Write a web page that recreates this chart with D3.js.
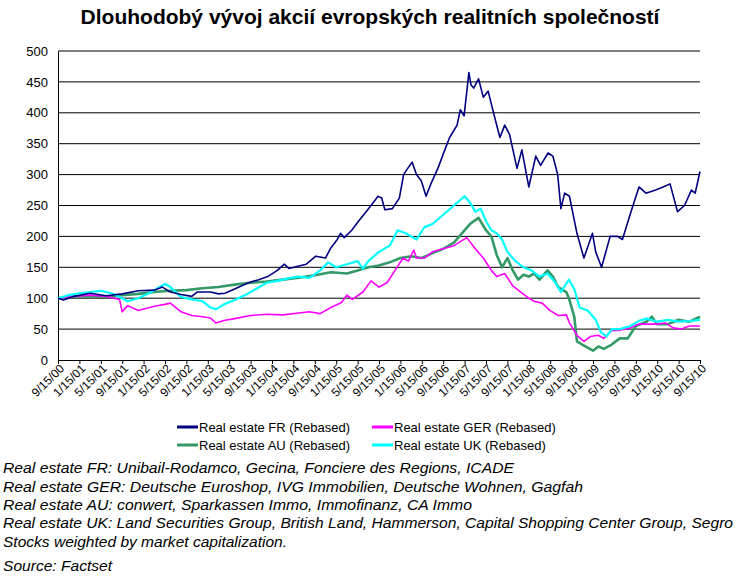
<!DOCTYPE html>
<html><head><meta charset="utf-8">
<script src="https://cdn.jsdelivr.net/npm/d3@7"></script>
<style>
body{margin:0;background:#fff;font-family:"Liberation Sans",Arial,sans-serif}
.note{font-style:italic;font-size:14px}
</style></head>
<body><svg id="c" width="738" height="578"></svg>
<script>
// months since 9/15/00, value (rebased to 100)
var frSeries = [[0,100],[1,97],[3,103],[6,108],[9,104],[12,107],[15,112],[18,113],[19.5,118],[21,110],[23,106],[25,103],[26,110],[28.5,110],[30,107],[31.2,108],[33,115],[35.6,125],[37.5,130],[39.2,135],[41,145],[42.3,155],[43.2,148],[45,152],[46.4,155],[48.2,168],[50,165],[50.9,180],[52.2,195],[52.8,205],[53.5,198],[54.9,210],[56.2,225],[57.6,240],[59.4,260],[59.8,265],[60.5,262],[61.1,243],[62.5,245],[63.8,262],[64.6,300],[65.2,308],[66.2,320],[67,300],[67.9,290],[68.8,265],[69.7,285],[71,310],[72.3,340],[73.2,360],[74.6,380],[75.2,405],[75.9,395],[76.8,465],[77.2,445],[77.7,440],[78.6,455],[79.5,425],[80.4,435],[81.7,390],[82.6,360],[83.5,380],[84.4,365],[85.8,310],[86.7,340],[88,280],[89.3,330],[90.2,315],[91.6,335],[92.5,330],[93.4,300],[94,245],[94.7,270],[95.6,265],[97,205],[98.3,165],[99.9,205],[100.5,175],[101.6,150],[103.2,200],[104.6,200],[105.5,195],[107.1,240],[108.6,280],[109.9,270],[111.7,275],[113.1,280],[114.4,285],[115.8,240],[117.1,250],[118.4,275],[119.1,270],[120,305]];
var gerSeries = [[0,100],[3,103],[6,105],[9,103],[11.5,98],[12,78],[13,88],[15,80],[18,87],[20,90],[21,92],[23,78],[25,72],[27,70],[28.5,68],[29.5,60],[31,64],[33,67],[36,72],[39,74],[42,73],[45,76],[47,78],[49,75],[51,85],[53,93],[54,105],[55,98],[57,110],[58.5,128],[60,118],[61.5,125],[63,145],[64.5,165],[65.5,160],[66.5,178],[67,165],[68.5,165],[70,175],[72,180],[74,185],[76.4,198],[78,180],[79.5,165],[81,145],[82,135],[83.5,140],[85,120],[86.5,110],[88,100],[89,95],[90.5,92],[92,80],[93.5,72],[95,73],[95.6,60],[97,40],[98.3,30],[99.5,38],[101,40],[102,35],[103.5,48],[105,48],[107,52],[108.5,58],[110,58],[112,58],[113.5,60],[115,52],[116.5,50],[118,55],[120,55]];
var auSeries = [[0,100],[3,103],[6,103],[9,102],[12,105],[15,107],[18,110],[21,112],[24,113],[27,116],[30,118],[33,122],[36,125],[39,127],[42,130],[45,133],[48,137],[51,142],[54,140],[56,145],[58,150],[60,153],[62,158],[64,165],[66,168],[68,165],[70,173],[72,180],[74,190],[75.5,205],[77,220],[78.6,230],[80,210],[81,200],[82,170],[83,150],[84,165],[85,145],[86,130],[87,138],[88,135],[89,140],[90,130],[91.5,145],[92.5,135],[93.5,118],[95,110],[95.5,100],[96.5,70],[97,30],[98,25],[99,20],[100,15],[101,22],[102,18],[103.5,25],[105,35],[106.5,35],[108,55],[110,62],[111,70],[112,58],[114,58],[116,65],[118,62],[120,70]];
var ukSeries = [[0,100],[2,105],[4,108],[6,110],[8,112],[10,108],[12,100],[13,95],[15,100],[17,108],[19,118],[20,123],[21,118],[23,102],[25,98],[27,95],[28.5,85],[29.5,82],[31,90],[33,97],[35,105],[37,115],[39,125],[41,128],[43,132],[45,135],[47,133],[49,145],[50.5,158],[52,150],[54,155],[56,160],[57,148],[58,160],[60,175],[62,185],[63.5,210],[65,205],[67,195],[68.5,215],[70,220],[72,235],[74,250],[76,265],[77,255],[78,240],[79,245],[80,225],[81,210],[82,205],[83,195],[84,175],[85.5,160],[87,150],[88.5,145],[90,135],[91.5,140],[93,125],[94,110],[95.5,130],[96.5,115],[97.5,85],[99,80],[100.5,65],[101.5,45],[102.5,38],[103.5,50],[105,50],[107,55],[108.5,63],[110,67],[112,62],[114,65],[116,62],[118,63],[120,65]];
var xTickLabels = ["9/15/00","1/15/01","5/15/01","9/15/01","1/15/02","5/15/02","9/15/02","1/15/03","5/15/03","9/15/03","1/15/04","5/15/04","9/15/04","1/15/05","5/15/05","9/15/05","1/15/06","5/15/06","9/15/06","1/15/07","5/15/07","9/15/07","1/15/08","5/15/08","9/15/08","1/15/09","5/15/09","9/15/09","1/15/10","5/15/10","9/15/10"];
var yTicks = [0,50,100,150,200,250,300,350,400,450,500];
var seriesNames = ["Real estate FR (Rebased)","Real estate GER (Rebased)","Real estate AU (Rebased)","Real estate UK (Rebased)"];
var footnotes = ["Real estate FR: Unibail-Rodamco, Gecina, Fonciere des Regions, ICADE","Real estate GER: Deutsche Euroshop, IVG Immobilien, Deutsche Wohnen, Gagfah","Real estate AU: conwert, Sparkassen Immo, Immofinanz, CA Immo","Real estate UK: Land Securities Group, British Land, Hammerson, Capital Shopping Center Group, Segro","Stocks weighted by market capitalization.","Source: Factset"];
var footWidths = [511,580,469,730,284,109];
var footY = [473,492,510,528,547,571];

var svg = d3.select("#c");
var x = d3.scaleLinear().domain([0,120]).range([58,700]);
var y = d3.scaleLinear().domain([0,500]).range([360,51]);

svg.append("text").attr("x",370).attr("y",24).attr("text-anchor","middle")
  .style("font-size","21px").style("font-weight","bold").text("Dlouhodobý vývoj akcií evropských realitních společností");

svg.append("g").selectAll("line").data(yTicks.slice(1)).enter().append("line")
  .attr("x1",58).attr("x2",700).attr("y1",y).attr("y2",y).attr("stroke","#000").attr("stroke-width",1);

var ya = svg.append("g").attr("transform","translate(58,0)")
  .call(d3.axisLeft(y).tickValues(yTicks).tickSize(0).tickPadding(10));
ya.select(".domain").attr("stroke","#000");
ya.selectAll("text").style("font-size","13px").style("font-family","Liberation Sans, Arial");

var xa = svg.append("g").attr("transform","translate(0,360)")
  .call(d3.axisBottom(x).tickValues(d3.range(0,121,4)).tickSize(4).tickSizeOuter(0)
    .tickFormat(function(d,i){return xTickLabels[i];}));
xa.selectAll("text").style("font-size","12px").style("font-family","Liberation Sans, Arial")
  .attr("text-anchor","end").attr("dx","-2").attr("dy","4").attr("transform","rotate(-45)");

var line = d3.line().x(function(d){return x(d[0]);}).y(function(d){return y(d[1]);});
var colors = ["#000080","#ff00ff","#339966","#00ffff"];
var widths = [1.6,1.6,2.6,2.2];
var all = [frSeries,gerSeries,auSeries,ukSeries];
[2,1,3,0].forEach(function(i){
  svg.append("path").datum(all[i]).attr("d",line).attr("fill","none")
    .attr("stroke",colors[i]).attr("stroke-width",widths[i]).attr("stroke-linejoin","round");
});

var legPos = [[177,427],[372,427],[177,445],[372,445]];
seriesNames.forEach(function(n,i){
  var g = svg.append("g").attr("transform","translate("+legPos[i][0]+","+legPos[i][1]+")");
  g.append("line").attr("x1",0).attr("x2",21).attr("y1",0).attr("y2",0).attr("stroke",colors[i]).attr("stroke-width",3);
  g.append("text").attr("x",22).attr("y",5).style("font-size","13px").text(n);
});

footnotes.forEach(function(t,i){
  svg.append("text").attr("class","note").attr("x",3).attr("y",footY[i])
    .attr("textLength",footWidths[i]).attr("lengthAdjust","spacingAndGlyphs").text(t);
});
</script></body></html>
